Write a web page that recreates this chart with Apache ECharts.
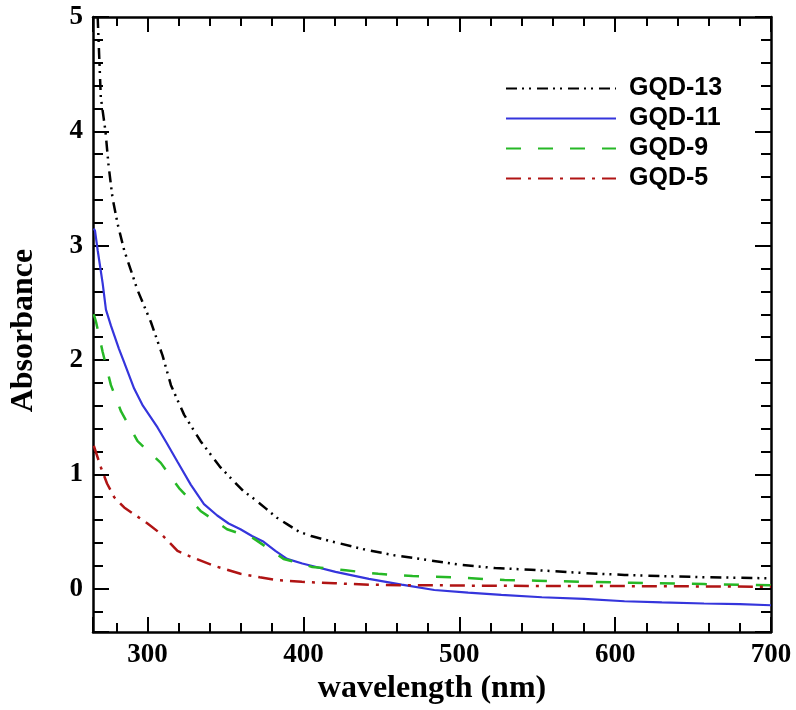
<!DOCTYPE html>
<html>
<head>
<meta charset="utf-8">
<script src="https://cdn.jsdelivr.net/npm/echarts@6/dist/echarts.min.js"></script>
<style>
html,body{margin:0;padding:0;background:#fff;}
#c{width:796px;height:710px;}
</style>
</head>
<body>
<div id="c"></div>
<script>
// Data
const seriesNames = ['GQD-13', 'GQD-11', 'GQD-9', 'GQD-5'];

const wl13  = [268, 270, 273, 275, 277.5, 280.8, 285, 293.6, 302.2, 309.6, 315, 319.2, 323.5, 334, 346.8, 361.7, 367, 376, 383, 390, 397, 405, 416, 440, 459, 480, 500, 523, 546, 575, 606, 630, 657, 680, 700];
const abs13 = [5.0, 4.3, 4.0, 3.7, 3.42, 3.19, 2.96, 2.61, 2.33, 2.04, 1.78, 1.65, 1.52, 1.29, 1.06, 0.85, 0.80, 0.70, 0.62, 0.56, 0.50, 0.46, 0.42, 0.34, 0.29, 0.25, 0.21, 0.18, 0.165, 0.14, 0.12, 0.11, 0.10, 0.095, 0.09];

const wl11  = [265.5, 266.3, 268, 271.2, 273.3, 276.5, 281.6, 285, 291.4, 297, 306.4, 312, 319.2, 327.7, 336.2, 344.7, 352, 359.6, 367, 374.5, 382, 389.5, 399.3, 420.6, 442, 463, 484, 505.7, 527, 553, 580, 606, 630, 657, 680, 700];
const abs11 = [3.15, 3.13, 2.96, 2.67, 2.44, 2.30, 2.10, 1.98, 1.75, 1.60, 1.41, 1.28, 1.11, 0.91, 0.74, 0.64, 0.57, 0.52, 0.46, 0.41, 0.33, 0.26, 0.22, 0.147, 0.085, 0.035, -0.012, -0.035, -0.055, -0.075, -0.09, -0.11, -0.12, -0.13, -0.135, -0.145];

const wl9  = [265.5, 267, 271.2, 276.5, 283, 293.6, 308.5, 320.2, 334, 351, 368, 387.3, 405.7, 427, 448, 470, 495, 529, 550, 580, 610, 657, 700];
const abs9 = [2.40, 2.33, 2.07, 1.78, 1.55, 1.29, 1.10, 0.88, 0.68, 0.52, 0.44, 0.26, 0.19, 0.16, 0.13, 0.11, 0.10, 0.075, 0.07, 0.06, 0.052, 0.04, 0.03];

const wl5  = [265.5, 270.1, 274, 278.6, 285, 291.4, 300, 308.5, 313, 319.2, 327.7, 342.6, 359.6, 372, 383, 399, 420, 442, 463, 484, 508, 548, 593, 650, 700];
const abs5 = [1.25, 1.06, 0.92, 0.80, 0.71, 0.65, 0.57, 0.48, 0.42, 0.33, 0.28, 0.20, 0.13, 0.10, 0.075, 0.06, 0.047, 0.035, 0.03, 0.03, 0.026, 0.024, 0.023, 0.02, 0.017];

const xMin = 265, xMax = 700, yMin = -0.38, yMax = 5;

function pairs(xs, ys) { return xs.map((x, i) => [x, ys[i]]); }

const serif = 'Liberation Serif';
const axisColor = '#000';

function xAxisDef(pos, major) {
  return {
    type: 'value', position: pos, min: xMin, max: xMax,
    minInterval: major ? 100 : 20, maxInterval: major ? 100 : 20,
    axisLine: { show: major, onZero: false, lineStyle: { color: axisColor, width: 2.5 } },
    axisTick: { show: true, inside: true, length: major ? 15 : 9, lineStyle: { color: axisColor, width: 2 } },
    axisLabel: (major && pos === 'bottom') ? {
      show: true, margin: 9, color: '#000', fontFamily: serif, fontWeight: 'bold', fontSize: 27,
      formatter: v => (Math.abs(v % 100) < 1e-6 ? String(v) : '')
    } : { show: false },
    splitLine: { show: false },
    name: (major && pos === 'bottom') ? 'wavelength (nm)' : '',
    nameLocation: 'middle', nameGap: 40,
    nameTextStyle: { color: '#000', fontFamily: serif, fontWeight: 'bold', fontSize: 32 }
  };
}
function yAxisDef(pos, major) {
  return {
    type: 'value', position: pos, min: yMin, max: yMax,
    minInterval: major ? 1 : 0.2, maxInterval: major ? 1 : 0.2,
    axisLine: { show: major, onZero: false, lineStyle: { color: axisColor, width: 2.5 } },
    axisTick: { show: true, inside: true, length: major ? 16 : 10, lineStyle: { color: axisColor, width: 2 } },
    axisLabel: (major && pos === 'left') ? {
      show: true, margin: 10, color: '#000', fontFamily: serif, fontWeight: 'bold', fontSize: 27,
      formatter: v => (Math.abs(v - Math.round(v)) < 1e-6 ? String(Math.round(v)) : '')
    } : { show: false },
    splitLine: { show: false },
    name: (major && pos === 'left') ? 'Absorbance' : '',
    nameLocation: 'middle', nameGap: 53,
    nameTextStyle: { color: '#000', fontFamily: serif, fontWeight: 'bold', fontSize: 32, padding: [0, 12, 0, 0] }
  };
}

const chart = echarts.init(document.getElementById('c'), null, { renderer: 'canvas' });
chart.setOption({
  animation: false,
  backgroundColor: '#fff',
  grid: { left: 90, right: 25, top: 17, bottom: 71, containLabel: false },
  xAxis: [xAxisDef('bottom', true), xAxisDef('bottom', false), xAxisDef('top', true), xAxisDef('top', false)],
  yAxis: [yAxisDef('left', true), yAxisDef('left', false), yAxisDef('right', true), yAxisDef('right', false)],
  legend: {
    data: seriesNames,
    orient: 'vertical', left: 500, top: 71,
    itemWidth: 110, itemHeight: 14, itemGap: 5,
    itemStyle: { opacity: 0, color: 'rgba(0,0,0,0)', borderWidth: 0 },
    textStyle: { color: '#000', fontFamily: 'Liberation Sans', fontWeight: 'bold', fontSize: 25, lineHeight: 24, padding: [0, 0, 0, 8] }
  },
  series: [
    { name: seriesNames[0], type: 'line', data: pairs(wl13, abs13), symbol: 'none', showSymbol: false,
      lineStyle: { color: '#000', width: 2.5, type: [11, 5, 2, 5, 2, 6] }, itemStyle: { color: '#000' } },
    { name: seriesNames[1], type: 'line', data: pairs(wl11, abs11), symbol: 'none', showSymbol: false,
      lineStyle: { color: '#3535dc', width: 2.2, type: 'solid' }, itemStyle: { color: '#3535dc' } },
    { name: seriesNames[2], type: 'line', data: pairs(wl9, abs9), symbol: 'none', showSymbol: false,
      lineStyle: { color: '#26b826', width: 2.5, type: [15, 17] }, itemStyle: { color: '#26b826' } },
    { name: seriesNames[3], type: 'line', data: pairs(wl5, abs5), symbol: 'none', showSymbol: false,
      lineStyle: { color: '#b01414', width: 2.5, type: [15, 7, 3, 7] }, itemStyle: { color: '#b01414' } }
  ]
});
</script>
</body>
</html>
